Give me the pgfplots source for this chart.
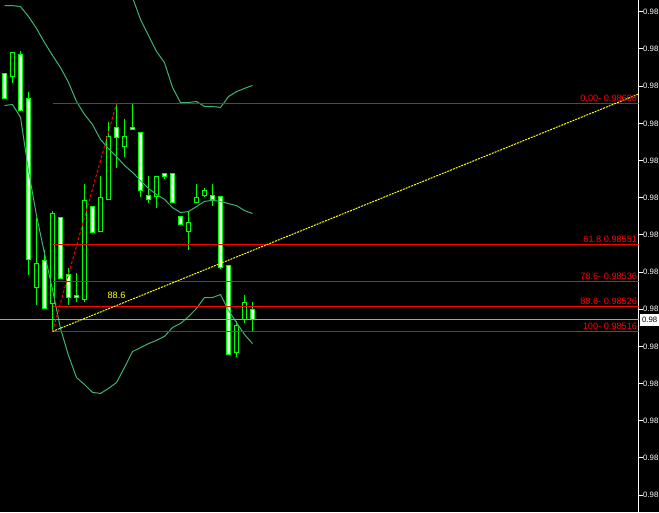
\documentclass[border=0pt]{standalone}
\usepackage{fontspec}
\setmainfont{Liberation Sans}
\usepackage{pgfplots}
\pgfplotsset{compat=1.18}
\usepackage{pgfplotstable}

\definecolor{candle}{RGB}{0,255,0}
\definecolor{band}{RGB}{60,179,113}
\definecolor{fib}{RGB}{255,0,0}
\definecolor{trend}{RGB}{255,255,0}
\definecolor{bid}{RGB}{160,164,170}
\newcommand\lab{\fontsize{9.2}{10}\selectfont}
\newcommand\tlab{\fontsize{7.8}{9}\selectfont}

% bearish candles (white bodies): index open high low close
\pgfplotstableread{
x o h l c
0 0.986205 0.986205 0.986100 0.986100
2 0.986278 0.986290 0.986048 0.986048
3 0.986104 0.986128 0.985386 0.985450
5 0.985450 0.985487 0.985249 0.985249
7 0.985620 0.985620 0.985370 0.985370
8 0.985390 0.985418 0.985265 0.985297
9 0.985309 0.985398 0.985277 0.985297
11 0.985668 0.985668 0.985559 0.985559
14 0.985987 0.986080 0.985818 0.985939
16 0.985987 0.986076 0.985975 0.985975
17 0.985967 0.985967 0.985701 0.985725
18 0.985709 0.985789 0.985680 0.985689
20 0.985798 0.985798 0.985777 0.985785
21 0.985798 0.985798 0.985680 0.985680
22 0.985628 0.985628 0.985588 0.985588
26 0.985709 0.985757 0.985668 0.985689
27 0.985705 0.985705 0.985414 0.985418
28 0.985430 0.985430 0.985067 0.985067
31 0.985249 0.985277 0.985160 0.985208
}\bear

% bullish candles (hollow bodies)
\pgfplotstableread{
x o h l c
1 0.986185 0.986286 0.986161 0.986286
4 0.985337 0.985616 0.985265 0.985438
6 0.985269 0.985648 0.985160 0.985640
10 0.985289 0.985757 0.985277 0.985689
12 0.985563 0.985789 0.985563 0.985701
13 0.985689 0.986007 0.985689 0.985947
15 0.985906 0.986019 0.985866 0.985947
19 0.985701 0.985789 0.985660 0.985789
23 0.985563 0.985648 0.985487 0.985600
24 0.985680 0.985757 0.985680 0.985701
25 0.985705 0.985737 0.985701 0.985729
29 0.985075 0.985204 0.985055 0.985188
30 0.985208 0.985309 0.985196 0.985277
}\bull

% Bollinger bands: middle and lower
\pgfplotstableread{
x m lo
0 0.986475 0.986072
1 0.986475 0.986076
2 0.986471 0.986024
3 0.986431 0.985810
4 0.986383 0.985628
5 0.986326 0.985475
6 0.986274 0.985329
7 0.986225 0.985172
8 0.986165 0.985063
9 0.986088 0.984974
10 0.986036 0.984946
11 0.985995 0.984914
12 0.985935 0.984910
13 0.985898 0.984930
14 0.985866 0.984954
15 0.985830 0.985015
16 0.985802 0.985079
17 0.985769 0.985095
18 0.985737 0.985111
19 0.985713 0.985124
20 0.985693 0.985140
21 0.985660 0.985176
22 0.985640 0.985192
23 0.985644 0.985220
24 0.985664 0.985253
25 0.985685 0.985297
26 0.985689 0.985297
27 0.985685 0.985309
28 0.985676 0.985245
29 0.985668 0.985196
30 0.985648 0.985148
31 0.985636 0.985111
}\bands

% upper band (visible part)
\pgfplotstableread{
x u
15 0.986597
16 0.986508
17 0.986419
18 0.986354
19 0.986290
20 0.986245
21 0.986145
22 0.986084
23 0.986084
24 0.986088
25 0.986068
26 0.986068
27 0.986064
28 0.986108
29 0.986128
30 0.986141
31 0.986153
}\upper

\begin{document}
\begin{tikzpicture}
\fill[black] (0,0) rectangle (659pt,512pt);
\begin{axis}[
  at={(0,0)}, anchor=south west,
  scale only axis, width=638.5pt, height=512pt,
  xmin=-0.5625, xmax=79.25,
  ymin=0.9844315, ymax=0.9864977,
  axis x line=none,
  axis y line*=right,
  axis line style={white, line width=1pt, -},
  ytick pos=right,
  ytick={0.98450,0.98465,0.98480,0.98495,0.98510,0.98525,0.98540,0.98555,0.98570,0.98585,0.98600,0.98615,0.98630,0.98645},
  yticklabels={0.98,0.98,0.98,0.98,0.98,0.98,0.98,0.98,0.98,0.98,0.98,0.98,0.98,0.98},
  tick style={white, line width=1pt},
  major tick length=4pt,
  tick align=outside,
  yticklabel style={text=white, font=\tlab, inner sep=0pt, anchor=west, xshift=0.5pt},
  clip mode=individual,
  /pgf/number format/assume math mode=true,
]
% wicks
\addplot[candle, line width=1pt, quiver={u=0, v=\thisrow{l}-\thisrow{h}}] table[x=x, y=h] {\bear};
\addplot[candle, line width=1pt, quiver={u=0, v=\thisrow{l}-\thisrow{h}}] table[x=x, y=h] {\bull};
% bodies
\addplot[candle, line width=5pt, quiver={u=0, v=\thisrow{c}-\thisrow{o}}] table[x=x, y=o] {\bear};
\addplot[candle, line width=5pt, quiver={u=0, v=\thisrow{c}-\thisrow{o}}] table[x=x, y=o] {\bull};
\addplot[white, line width=3pt, shorten <=1pt, shorten >=1pt, quiver={u=0, v=\thisrow{c}-\thisrow{o}}] table[x=x, y=o] {\bear};
\addplot[black, line width=3pt, shorten <=1pt, shorten >=1pt, quiver={u=0, v=\thisrow{c}-\thisrow{o}}] table[x=x, y=o] {\bull};
% Bollinger bands
\addplot[band, line width=1pt] table[x=x, y=m] {\bands};
\addplot[band, line width=1pt] table[x=x, y=lo] {\bands};
\addplot[band, line width=1pt] table[x=x, y=u] {\upper};
% bid line
\addplot[bid, line width=1pt] coordinates {(-0.5625,0.985208) (79.25,0.985208)};
% Fibonacci levels
\addplot[fib, line width=1pt] coordinates {(6,0.98608) (79.25,0.98608)};
\addplot[fib, line width=1pt] coordinates {(6,0.98551) (79.25,0.98551)};
\addplot[fib, line width=1pt] coordinates {(6,0.98536) (79.25,0.98536)};
\addplot[fib, line width=1pt] coordinates {(6,0.98526) (79.25,0.98526)};
\addplot[fib, line width=1pt] coordinates {(6,0.98516) (79.25,0.98516)};
\addplot[fib, line width=1pt, dash pattern=on 3pt off 2pt] coordinates {(6,0.98516) (14,0.98608)};
% trend line
\addplot[trend, line width=1pt, dash pattern=on 2pt off 1pt] coordinates {(6,0.98516) (79.25,0.986118)};
% labels
\node[text=fib, font=\lab, anchor=base east, inner sep=0pt, yshift=2pt] at (axis cs:79.1,0.98608) {0.00- 0.98608};
\node[text=fib, font=\lab, anchor=base east, inner sep=0pt, yshift=2pt] at (axis cs:79.1,0.98551) {61.8 0.98551};
\node[text=fib, font=\lab, anchor=base east, inner sep=0pt, yshift=2pt] at (axis cs:79.1,0.98536) {78.6- 0.98536};
\node[text=fib, font=\lab, anchor=base east, inner sep=0pt, yshift=2pt] at (axis cs:79.1,0.98526) {88.6- 0.98526};
\node[text=fib, font=\lab, anchor=base east, inner sep=0pt, yshift=2pt] at (axis cs:79.1,0.98516) {100- 0.98516};
\node[text=trend, font=\lab] at (axis cs:14,0.985305) {88.6};
\node[fill=white, text=black, font=\tlab, anchor=west, inner xsep=1pt, inner ysep=0pt, minimum height=12pt, minimum width=19pt, xshift=1.5pt] at (axis cs:79.25,0.985208) {0.98};
\end{axis}
\pgfresetboundingbox
\path[use as bounding box] (0,0) rectangle (659pt,512pt);
\end{tikzpicture}
\end{document}
